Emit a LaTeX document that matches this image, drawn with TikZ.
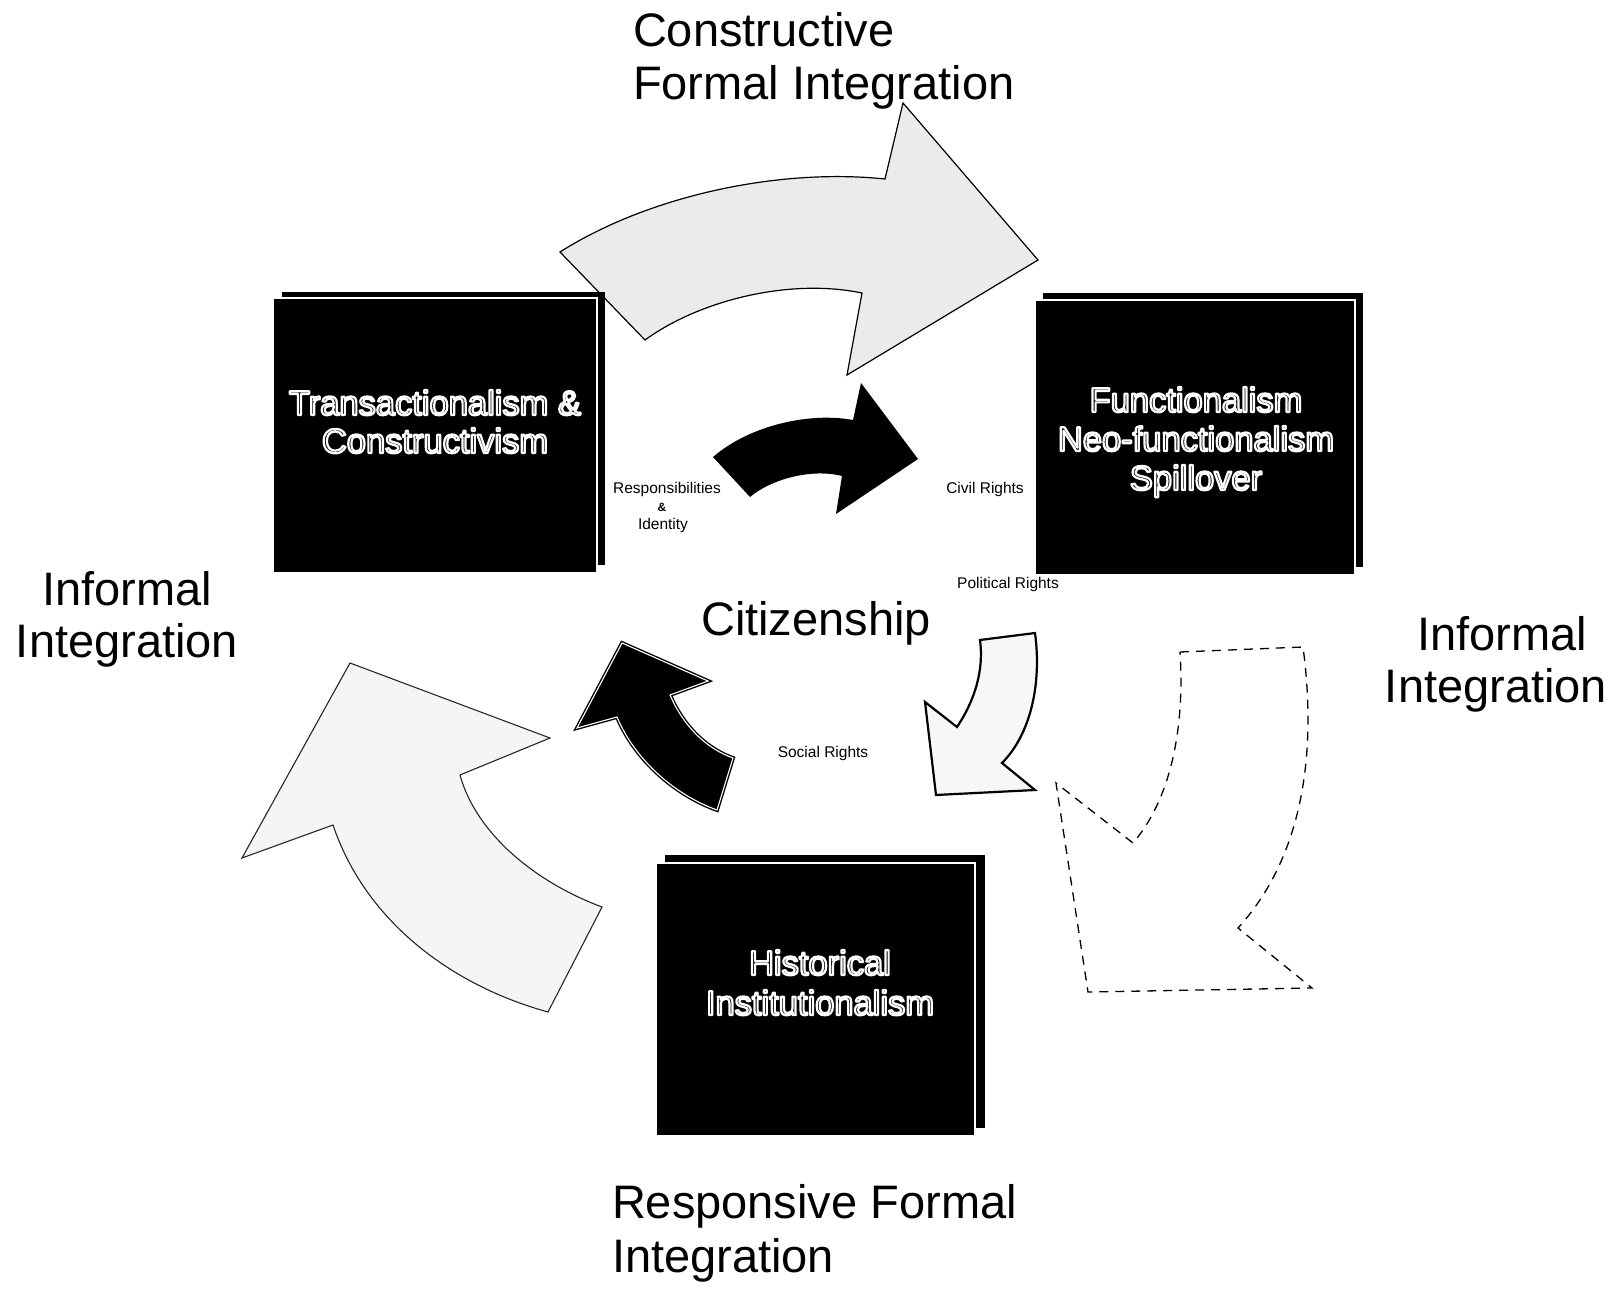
\documentclass[tikz,border=0pt]{standalone}
\usepackage{fontspec}
\setmainfont{Liberation Sans}
\newcommand\outl[1]{\special{pdf:literal direct 1 G 2.2 w 1 j 1 Tr}#1\special{pdf:literal direct 0 Tr 0 G 1 w 0 j}}
\begin{document}
\begin{tikzpicture}[x=1pt,y=-1pt,
  every node/.style={inner sep=0pt,outer sep=0pt},
  bigtxt/.style={font=\fontsize{47}{54}\selectfont},
  boxtxt/.style={font=\fontsize{34.5}{38}\selectfont},
  smalltxt/.style={font=\fontsize{15.5}{18}\selectfont},
  boxfront/.style={rectangle,fill=black,draw=white,line width=1.5pt},
  boxback/.style={fill=black},
  grayarrow/.style={fill=black!8,draw=black,line width=1.2pt,line join=miter},
  grayarrowb/.style={fill=black!4,draw=black!85,line width=1.1pt,line join=miter},
  lightarrow/.style={fill=black!3,draw=black,line width=2.2pt,line join=miter},
  dasharrow/.style={draw=black,line width=1.3pt,dash pattern=on 9pt off 7pt},
  blackarrow/.style={fill=black,draw=black,double=white,double distance=1.1pt,line width=1.4pt,line join=miter},
  solidarrow/.style={fill=black}]
\fill[white] (0,0) rectangle (1614,1289);
\useasboundingbox (0,0) rectangle (1614,1289);

% light arrows
\path[grayarrow] (560,252) .. controls (650,195) and (780,168) .. (885,179) -- (903,103) -- (1038,260) -- (847,375) -- (862,293) .. controls (790,278) and (700,300) .. (645,340) -- cycle;
\path[grayarrowb] (350,663) -- (550,738) -- (460,775) .. controls (475,830) and (530,880) .. (602,907) -- (548,1012) .. controls (450,985) and (365,920) .. (333,825) -- (242,858) -- cycle;
\path[dasharrow] (1180,652) -- (1303,647) .. controls (1318,760) and (1300,860) .. (1238,928) -- (1312,988) -- (1088,992) -- (1056,783) -- (1133,843) .. controls (1170,800) and (1185,730) .. (1180,652) -- cycle;
\path[lightarrow] (980,640) -- (1035,633) .. controls (1042,685) and (1030,735) .. (1002,763) -- (1035,790) -- (936,795) -- (925,702) -- (957,727) .. controls (975,700) and (984,670) .. (980,640) -- cycle;

% black arrows
\path[solidarrow] (713,457) .. controls (750,425) and (810,412) .. (853,420) -- (861,383) -- (918,459) -- (836,514) -- (842,476) .. controls (810,468) and (770,480) .. (750,497) -- cycle;
\path[blackarrow] (622,643) -- (708,681) -- (670,695) .. controls (683,725) and (705,748) .. (733,758) -- (717,810) .. controls (675,795) and (635,760) .. (617,717) -- (577,728) -- cycle;

% boxes
\fill[boxback] (282,292) rectangle (605,565);
\node[boxfront,minimum width=324pt,minimum height=275pt] (box1) at (435,435.5) {};
\node[boxtxt,anchor=base] (t1a) at (435,415) {\outl{Transactionalism \&}};
\node[boxtxt,anchor=base] (t1b) at (435,453) {\outl{Constructivism}};

\fill[boxback] (1043,293) rectangle (1363,567);
\node[boxfront,minimum width=320pt,minimum height=275pt] (box2) at (1195,437.5) {};
\node[boxtxt,anchor=base] (t2a) at (1196,412) {\outl{Functionalism}};
\node[boxtxt,anchor=base] (t2b) at (1196,451) {\outl{Neo-functionalism}};
\node[boxtxt,anchor=base] (t2c) at (1196,490) {\outl{Spillover}};

\fill[boxback] (665,855) rectangle (985,1128);
\node[boxfront,minimum width=319pt,minimum height=273pt] (box3) at (815.5,999.5) {};
\node[boxtxt,anchor=base] (t3a) at (820,975) {\outl{Historical}};
\node[boxtxt,anchor=base] (t3b) at (820,1015) {\outl{Institutionalism}};

% big labels
\node[bigtxt,anchor=base west] (cfa) at (633,47) {Constructive};
\node[bigtxt,anchor=base west] (cfb) at (633,100) {Formal Integration};
\node[bigtxt,anchor=base] (ila) at (127,605) {Informal};
\node[bigtxt,anchor=base] (ilb) at (127,657) {Integration};
\node[bigtxt,anchor=base] (ira) at (1502,650) {Informal};
\node[bigtxt,anchor=base] (irb) at (1496,702) {Integration};
\node[bigtxt,anchor=base] (cit) at (816,635) {Citizenship};
\node[bigtxt,anchor=base west] (rfa) at (612,1218) {Responsive Formal};
\node[bigtxt,anchor=base west] (rfb) at (612,1272) {Integration};

% small labels
\node[smalltxt,anchor=base] (resp) at (667,493) {Responsibilities};
\node[font=\fontsize{12}{14}\selectfont\bfseries,anchor=base] (amp) at (662,511) {\&};
\node[smalltxt,anchor=base] (iden) at (663,529) {Identity};
\node[smalltxt,anchor=base] (civ) at (985,493) {Civil Rights};
\node[smalltxt,anchor=base] (pol) at (1008,588) {Political Rights};
\node[smalltxt,anchor=base] (soc) at (823,757) {Social Rights};
\end{tikzpicture}
\end{document}
